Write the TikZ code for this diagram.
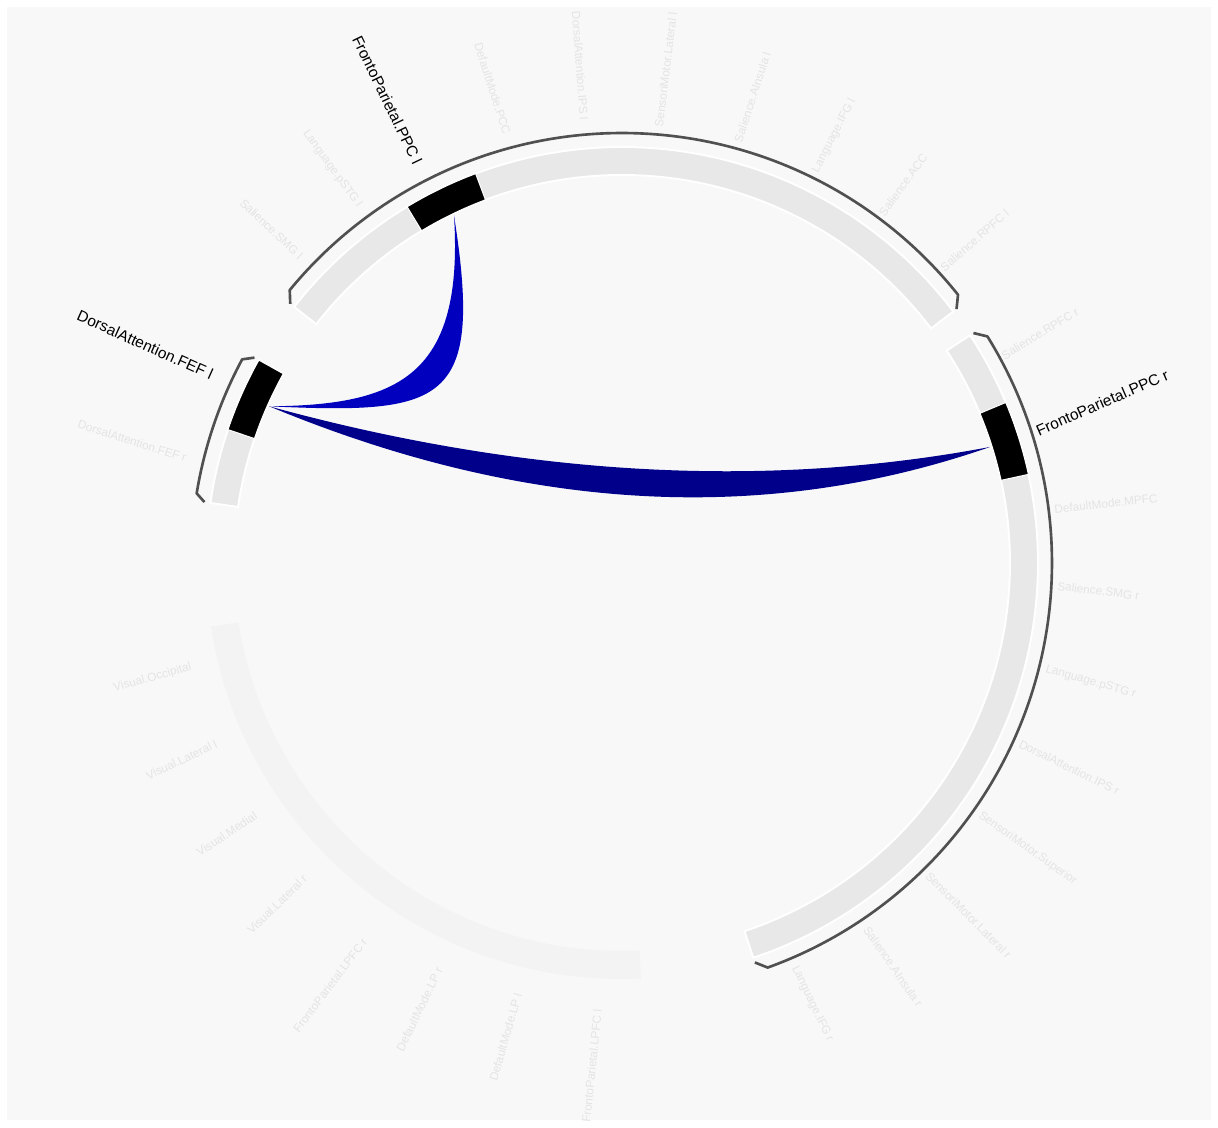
\documentclass[tikz,border=0pt]{standalone}
\usepackage{fontspec}
\setmainfont{Liberation Sans}
\usetikzlibrary{calc}
\definecolor{panelbg}{HTML}{F8F8F8}
\definecolor{bandgray}{HTML}{E8E8E8}
\definecolor{fadeband}{HTML}{F3F3F3}
\definecolor{labelgray}{HTML}{E4E4E4}
\definecolor{rimdark}{HTML}{505050}
\definecolor{chordA}{HTML}{0000BE}
\definecolor{chordB}{HTML}{00008B}
\begin{document}
\begin{tikzpicture}[x=0.02cm,y=0.02cm,
    faint/.style={text=labelgray,font=\fontsize{6.7}{8}\selectfont,
      inner sep=0pt,outer sep=0pt},
    hit/.style={text=black,font=\fontsize{8.8}{10}\selectfont,
      inner sep=0pt,outer sep=0pt},
    band/.style={fill=bandgray,draw=white,line width=1.1pt},
    roi/.style={fill=black,draw=white,line width=0.6pt},
    rim/.style={draw=rimdark,line width=1.5pt,line join=round}
    ]
    \useasboundingbox (-622,-564) rectangle (596,563);
    \fill[white] (-622,-564) rectangle (596,563);
    \fill[panelbg] (-615,-557) rectangle (589,556);
    % ring segments
    \path[band] (37.2:416) arc[start angle=37.2,end angle=142,radius=416]
    -- (142:388) arc[start angle=142,end angle=37.2,radius=388] -- cycle;
    \path[band] (-71.6:416) arc[start angle=-71.6,end angle=33.2,radius=416]
    -- (33.2:388) arc[start angle=33.2,end angle=-71.6,radius=388] -- cycle;
    \path[band] (150.8:416) arc[start angle=150.8,end angle=171.7,radius=416]
    -- (171.7:388) arc[start angle=171.7,end angle=150.8,radius=388] -- cycle;
    \fill[fadeband] (188.8:416) arc[start angle=188.8,end angle=272.6,radius=416]
    -- (272.6:388) arc[start angle=272.6,end angle=188.8,radius=388] -- cycle;
    % active regions
    \path[roi] (110.6:416) arc[start angle=110.6,end angle=121.1,radius=416]
    -- (121.1:388) arc[start angle=121.1,end angle=110.6,radius=388] -- cycle;
    \path[roi] (12.3:416) arc[start angle=12.3,end angle=22.7,radius=416]
    -- (22.7:388) arc[start angle=22.7,end angle=12.3,radius=388] -- cycle;
    \path[roi] (150.8:416) arc[start angle=150.8,end angle=161.3,radius=416]
    -- (161.3:388) arc[start angle=161.3,end angle=150.8,radius=388] -- cycle;
    % brackets
    \draw[rim] (37.2:420) -- (38.6:430) arc[start angle=38.6,end angle=140.6,radius=430]
    -- (142:421);
    \draw[rim] (33.2:420) -- (31.8:430) arc[start angle=31.8,end angle=-70.2,radius=430]
    -- (-71.6:421);
    \draw[rim] (150.8:421) -- (151.8:431) arc[start angle=151.8,end angle=170.7,radius=431]
    -- (171.7:422);
    % chord ends
    \coordinate (ppcl) at (115.8:386);
    \coordinate (fefl) at (156.05:386);
    \coordinate (ppcr) at (17.5:386);
    \coordinate (kin) at (29,52);
    \coordinate (kout) at (29,-2);
    \fill[chordA] (ppcl) .. controls ($(ppcl)+(30,-190)$) and ($(fefl)+(175,-8)$) .. (fefl)
    .. controls ($(fefl)+(130,1)$) and ($(ppcl)+(10,-160)$) .. (ppcl) -- cycle;
    \fill[chordB] (fefl) .. controls ($(fefl)!2/3!(kout)$) and ($(ppcr)!2/3!(kout)$) .. (ppcr)
    .. controls ($(ppcr)!2/3!(kin)$) and ($(fefl)!2/3!(kin)$) .. (fefl) -- cycle;
    % labels, right side
    \node[faint,anchor=base west,rotate=41.4] (lrpfcl) at (323,291) {Salience.RPFC l};
    \node[faint,anchor=base west,rotate=54] (lacc) at (263,346) {Salience.ACC};
    \node[faint,anchor=base west,rotate=62.5] (lifgl) at (196,390) {Language.IFG l};
    \node[faint,anchor=base west,rotate=72] (lainsl) at (120,420) {Salience.AInsula l};
    \node[faint,anchor=base west,rotate=83] (lsmll) at (41,436) {SensoriMotor.Lateral l};
    \node[faint,anchor=base west,rotate=31.6] (lrpfcr) at (383,203) {Salience.RPFC r};
    \node[hit,anchor=base west,rotate=23.5] (lppcr) at (417,127) {FrontoParietal.PPC r};
    \node[faint,anchor=base west,rotate=6] (lmpfc) at (433,50) {DefaultMode.MPFC};
    \node[faint,anchor=base west,rotate=-7] (lsmgr) at (435,-27) {Salience.SMG r};
    \node[faint,anchor=base west,rotate=-15.8] (lpstgr) at (423,-109) {Language.pSTG r};
    \node[faint,anchor=base west,rotate=-26] (lipsr) at (396,-184) {DorsalAttention.IPS r};
    \node[faint,anchor=base west,rotate=-35.3] (lsmsup) at (356,-254) {SensoriMotor.Superior};
    \node[faint,anchor=base west,rotate=-45.3] (lsmlr) at (303,-314) {SensoriMotor.Lateral r};
    \node[faint,anchor=base west,rotate=-55.5] (lainsr) at (241,-367) {Salience.AInsula r};
    \node[faint,anchor=base west,rotate=-64.4] (lifgr) at (170,-405) {Language.IFG r};
    % labels, left side
    \node[faint,anchor=base east,rotate=-85.7] (lipsl) at (-42,443) {DorsalAttention.IPS l};
    \node[faint,anchor=base east,rotate=-72.3] (lpcc) at (-119,428) {DefaultMode.PCC};
    \node[hit,anchor=base east,rotate=-64.3] (lppcl) at (-209,397) {FrontoParietal.PPC l};
    \node[faint,anchor=base east,rotate=-54] (lpstgl) at (-265,355) {Language.pSTG l};
    \node[faint,anchor=base east,rotate=-43.5] (lsmgl) at (-324,303) {Salience.SMG l};
    \node[hit,anchor=base east,rotate=-24.2] (lfefl) at (-412,183) {DorsalAttention.FEF l};
    \node[faint,anchor=base east,rotate=-17.6] (lfefr) at (-437,101) {DorsalAttention.FEF r};
    \node[faint,anchor=base east,rotate=15.7] (locc) at (-430,-107) {Visual.Occipital};
    \node[faint,anchor=base east,rotate=25.6] (lvisll) at (-404,-184) {Visual.Lateral l};
    \node[faint,anchor=base east,rotate=33.7] (lvism) at (-364,-255) {Visual.Medial};
    \node[faint,anchor=base east,rotate=44.5] (lvislr) at (-314,-317) {Visual.Lateral r};
    \node[faint,anchor=base east,rotate=53] (llpfcr) at (-254,-379) {FrontoParietal.LPFC r};
    \node[faint,anchor=base east,rotate=64.3] (llpr) at (-179,-407) {DefaultMode.LP r};
    \node[faint,anchor=base east,rotate=74] (llpl) at (-100,-432) {DefaultMode.LP l};
    \node[faint,anchor=base east,rotate=84] (llpfcl) at (-20,-447) {FrontoParietal.LPFC l};
  \end{tikzpicture}
\end{document}
